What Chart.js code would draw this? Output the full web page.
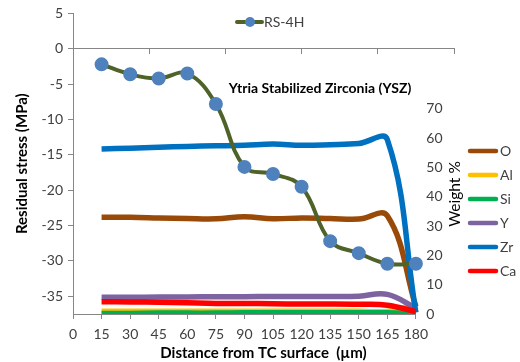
<!DOCTYPE html>
<html>
<head>
<meta charset="utf-8">
<script src="https://cdn.jsdelivr.net/npm/chart.js@4.4.1/dist/chart.umd.min.js"></script>
<style>
  html, body { margin: 0; padding: 0; background: #fff; }
  #wrap { position: relative; width: 520px; height: 362px; }
</style>
</head>
<body>
<div id="wrap"><canvas id="c" width="520" height="362"></canvas></div>
<script>
// distance from TC surface (µm)
const distance = [15, 30, 45, 60, 75, 90, 105, 120, 135, 150, 165, 180];

// residual stress, MPa (left axis)
const rs4h = [-2.2, -3.6, -4.2, -3.5, -7.8, -16.7, -17.7, -19.5, -27.2, -28.9, -30.4, -30.4];

// weight %, right axis
const wtO  = [33.0, 33.0, 32.8, 32.6, 32.5, 33.2, 32.5, 32.8, 32.6, 32.4, 33.5, 2.5];
const wtAl = [0.9, 0.9, 0.9, 0.9, 0.9, 0.9, 0.9, 0.9, 0.9, 0.9, 0.9, 3.0];
const wtSi = [0.2, 0.2, 0.3, 0.3, 0.3, 0.4, 0.4, 0.4, 0.4, 0.4, 0.4, 0.2];
const wtY  = [5.7, 5.7, 5.8, 5.8, 5.9, 5.9, 6.0, 6.0, 6.0, 6.1, 6.7, 2.0];
const wtZr = [56.3, 56.6, 56.9, 57.2, 57.4, 57.6, 58.0, 57.6, 57.8, 58.2, 59.5, 0.5];
const wtCa = [4.2, 4.1, 4.0, 3.8, 3.6, 3.6, 3.5, 3.4, 3.4, 3.3, 3.0, 0.8];

const elements = ['O', 'Al', 'Si', 'Y', 'Zr', 'Ca'];
const elementValues = [wtO, wtAl, wtSi, wtY, wtZr, wtCa];

// tick labels
const distanceTicks = [0, 15, 30, 45, 60, 75, 90, 105, 120, 135, 150, 165, 180];
const zeroLineTicks = [0, 40, 80, 120, 160, 200];
const stressTicks = [-35, -30, -25, -20, -15, -10, -5, 0, 5];
const weightTicks = [0, 10, 20, 30, 40, 50, 60, 70];

const colors = {
  O: '#9a4a08', Al: '#ffc000', Si: '#00b050', Y: '#7e63a1', Zr: '#0070c0', Ca: '#ff0000',
};
const rsLine = '#4f6228';
const rsMarker = '#4f81bd';
const axisGray = '#868686';
const tickText = '#404040';
const FONT = 'Lato, "Open Sans", sans-serif';

const points = (vals) => distance.map((d, i) => ({ x: d, y: vals[i] }));

const datasets = [
  {
    label: 'RS-4H',
    data: points(rs4h),
    yAxisID: 'y',
    borderColor: rsLine,
    backgroundColor: rsMarker,
    pointBackgroundColor: rsMarker,
    pointBorderColor: rsMarker,
    pointRadius: 5,
    borderWidth: 4,
    tension: 0.4,
    order: 0,
  },
];
// Excel draws later series on top: Ca over Zr over Y ...
elements.forEach((el, i) => {
  datasets.push({
    label: el,
    data: points(elementValues[i]),
    yAxisID: 'y2',
    borderColor: colors[el],
    backgroundColor: colors[el],
    pointRadius: 0,
    borderWidth: 5.5,
    tension: 0.4,
    order: elements.length - i,
  });
});

const fixedTicks = (list) => (scale) => {
  scale.ticks = list.map((v) => ({ value: v }));
};

// bottom axis line only runs to 180, plus legends and free text
const decorations = {
  id: 'decorations',
  beforeDatasetsDraw(chart) {
    const { ctx, chartArea } = chart;
    const x = chart.scales.x;
    ctx.save();
    ctx.strokeStyle = axisGray;
    ctx.lineWidth = 1;
    ctx.beginPath();
    ctx.moveTo(x.getPixelForValue(0), Math.round(chartArea.bottom) + 0.5);
    ctx.lineTo(x.getPixelForValue(180), Math.round(chartArea.bottom) + 0.5);
    ctx.stroke();
    ctx.restore();
  },
  afterDraw(chart) {
    const ctx = chart.ctx;
    ctx.save();
    ctx.textBaseline = 'middle';

    // RS-4H legend
    ctx.strokeStyle = rsLine;
    ctx.lineWidth = 4;
    ctx.lineCap = 'round';
    ctx.beginPath();
    ctx.moveTo(237, 22);
    ctx.lineTo(262, 22);
    ctx.stroke();
    ctx.fillStyle = rsMarker;
    ctx.beginPath();
    ctx.arc(250, 22, 5, 0, Math.PI * 2);
    ctx.fill();
    ctx.fillStyle = tickText;
    ctx.font = `14px ${FONT}`;
    ctx.textAlign = 'left';
    ctx.fillText('RS-4H', 264, 22);

    // inner title
    ctx.fillStyle = '#000';
    ctx.font = `bold 14px ${FONT}`;
    ctx.textAlign = 'center';
    ctx.fillText('Ytria Stabilized Zirconia (YSZ)', 320, 88);

    // element legend
    ctx.font = `14px ${FONT}`;
    ctx.textAlign = 'left';
    elements.forEach((el, i) => {
      const y = 151 + i * 24;
      ctx.strokeStyle = colors[el];
      ctx.lineWidth = 4.5;
      ctx.beginPath();
      ctx.moveTo(470, y);
      ctx.lineTo(496, y);
      ctx.stroke();
      ctx.fillStyle = tickText;
      ctx.fillText(el, 500, y);
    });

    // right axis title
    ctx.translate(455, 194);
    ctx.rotate(-Math.PI / 2);
    ctx.textAlign = 'center';
    ctx.fillStyle = '#000';
    ctx.font = `15.5px ${FONT}`;
    ctx.fillText('Weight %', 0, 0);
    ctx.restore();
  },
};

new Chart(document.getElementById('c'), {
  type: 'line',
  data: { datasets },
  plugins: [decorations],
  options: {
    responsive: false,
    animation: false,
    devicePixelRatio: 1,
    layout: { padding: { left: 0, right: 66, top: 12, bottom: 0 } },
    plugins: {
      legend: { display: false },
      tooltip: { enabled: false },
    },
    scales: {
      x: {
        type: 'linear',
        position: 'bottom',
        min: 0,
        max: 200,
        afterBuildTicks: fixedTicks(distanceTicks),
        afterFit: (s) => { s.height = 48; },
        border: { display: false },
        grid: { drawOnChartArea: false, drawTicks: true, tickLength: 5, color: axisGray },
        ticks: { color: tickText, font: { family: FONT, size: 14 }, padding: 7, maxRotation: 0, autoSkip: false },
        title: {
          display: true,
          text: 'Distance from TC surface  (µm)',
          color: '#000',
          font: { family: FONT, size: 15, weight: 'bold' },
          padding: { top: 0, bottom: 0 },
        },
      },
      x2: {
        type: 'linear',
        position: { y: 0 },
        min: 0,
        max: 200,
        afterBuildTicks: fixedTicks(zeroLineTicks),
        border: { display: true, color: axisGray },
        grid: { drawOnChartArea: false, drawTicks: true, tickLength: 5, color: axisGray },
        ticks: { display: false },
      },
      y: {
        type: 'linear',
        position: 'left',
        min: -37.5,
        max: 5,
        afterBuildTicks: fixedTicks(stressTicks),
        afterFit: (s) => { s.width = 73; },
        border: { display: true, color: axisGray },
        grid: { drawOnChartArea: false, drawTicks: true, tickLength: 5, color: axisGray },
        ticks: { color: tickText, font: { family: FONT, size: 14 }, padding: 5 },
        title: {
          display: true,
          text: 'Residual stress (MPa)',
          color: '#000',
          font: { family: FONT, size: 15, weight: 'bold' },
          padding: { top: 13, bottom: 0 },
        },
      },
      y2: {
        type: 'linear',
        position: 'right',
        min: 0,
        max: 102.6,
        afterBuildTicks: fixedTicks(weightTicks),
        afterFit: (s) => { s.width = 0; },
        border: { display: false },
        grid: { display: false, drawTicks: false },
        ticks: { color: tickText, font: { family: FONT, size: 14 }, mirror: true, crossAlign: 'far', padding: -11.5 },
      },
    },
  },
});
</script>
</body>
</html>
